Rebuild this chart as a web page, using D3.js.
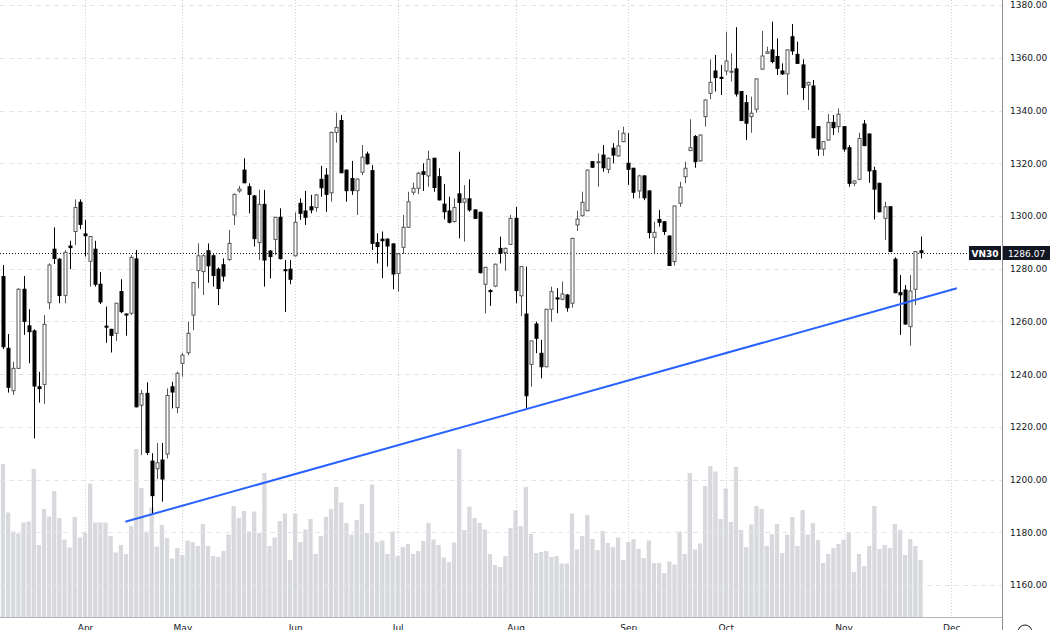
<!DOCTYPE html>
<html>
<head>
<meta charset="utf-8">
<script src="https://cdn.jsdelivr.net/npm/d3@7"></script>
<style>
  body { margin: 0; background: #fff; overflow: hidden; }
  svg { display: block; }
</style>
</head>
<body>
<svg></svg>
<script>
// VN30 daily candles, Mar 7 - Nov 22 2024
const open = [1277.0,1249.8,1233.7,1242.2,1272.2,1258.3,1256.4,1235.2,1236.1,1267.1,
  1287.4,1283.6,1269.9,1288.6,1294.1,1305.2,1293.2,1282.8,1287.4,1274.1,
  1258.2,1257.0,1255.5,1271.3,1262.8,1263.1,1283.7,1228.2,1232.7,1207.0,
  1204.1,1207.4,1209.7,1235.2,1227.3,1244.1,1248.1,1262.4,1279.3,1278.9,
  1286.8,1284.9,1279.8,1281.5,1283.5,1300.4,1309.5,1317.4,1311.1,1307.6,
  1289.9,1304.4,1286.7,1291.1,1299.5,1279.6,1279.8,1284.9,1304.8,1301.9,
  1303.5,1303.2,1313.9,1315.5,1308.8,1331.7,1336.2,1317.4,1314.2,1309.6,
  1316.6,1323.5,1317.2,1289.9,1291.2,1291.2,1289.4,1278.2,1288.1,1295.7,
  1309.0,1310.5,1316.8,1315.2,1321.9,1314.9,1304.5,1301.9,1297.9,1308.4,
  1305.2,1306.5,1302.3,1301.4,1274.1,1271.7,1273.4,1287.7,1286.1,1289.2,
  1299.1,1269.7,1262.8,1243.7,1259.0,1247.9,1242.8,1264.6,1268.9,1268.4,
  1270.0,1266.9,1296.6,1300.1,1302.0,1320.6,1320.5,1323.1,1317.7,1325.7,
  1322.8,1328.2,1320.0,1318.1,1309.5,1315.2,1309.5,1291.9,1298.7,1297.8,
  1292.4,1282.7,1304.8,1314.9,1324.8,1330.1,1320.9,1337.7,1346.5,1355.0,
  1352.6,1355.0,1354.6,1355.8,1347.2,1343.0,1337.7,1340.5,1355.7,1361.7,
  1363.0,1360.5,1355.0,1353.9,1368.0,1361.3,1357.3,1349.7,1349.3,1333.9,
  1325.4,1328.8,1335.5,1333.9,1333.9,1325.9,1312.4,1313.9,1334.9,1331.1,
  1317.2,1312.4,1299.1,1303.5,1283.6,1270.9,1271.9,1258.0,1272.2,1286.8];
const high = [1281.4,1255.2,1244.7,1272.6,1277.2,1264.6,1257.0,1240.9,1262.4,1282.0,
  1295.7,1284.0,1287.0,1290.6,1306.3,1306.3,1298.5,1292.4,1290.6,1278.8,
  1265.6,1257.2,1267.0,1276.0,1263.0,1285.2,1287.1,1234.0,1236.9,1210.0,
  1213.9,1213.9,1234.6,1237.1,1240.9,1248.1,1259.9,1275.0,1289.6,1285.5,
  1289.6,1285.5,1280.5,1283.9,1294.7,1308.5,1311.4,1321.9,1312.4,1308.0,
  1309.9,1309.9,1287.0,1299.7,1302.9,1283.3,1283.3,1301.4,1306.7,1309.5,
  1308.0,1308.3,1319.0,1318.1,1332.0,1339.2,1338.3,1317.6,1320.9,1314.2,
  1326.9,1324.4,1319.3,1293.4,1294.1,1291.5,1289.6,1285.8,1300.4,1309.2,
  1312.6,1316.8,1320.0,1324.8,1322.1,1318.1,1312.1,1307.3,1306.7,1324.4,
  1311.7,1313.9,1302.5,1301.6,1280.7,1272.2,1281.9,1292.2,1288.0,1300.4,
  1303.5,1281.0,1280.8,1252.6,1259.9,1253.0,1264.8,1273.2,1272.6,1275.1,
  1270.4,1291.7,1302.0,1309.2,1317.6,1320.8,1323.8,1326.9,1322.1,1327.6,
  1332.6,1333.9,1331.4,1318.3,1315.6,1315.4,1309.7,1297.8,1302.3,1298.0,
  1292.6,1303.8,1313.0,1320.6,1336.7,1330.7,1330.9,1344.2,1359.4,1361.1,
  1357.3,1369.9,1361.7,1371.6,1347.4,1345.9,1345.3,1352.2,1370.2,1364.2,
  1373.7,1367.4,1357.9,1363.2,1372.8,1366.1,1359.4,1350.9,1351.6,1334.1,
  1328.4,1338.7,1338.3,1340.8,1334.1,1326.9,1313.5,1331.6,1336.4,1331.3,
  1318.7,1312.6,1305.4,1303.7,1284.3,1277.6,1273.8,1277.6,1286.7,1292.2];
const low = [1249.5,1233.0,1232.1,1242.0,1254.9,1244.1,1215.6,1229.2,1228.7,1264.6,
  1281.8,1266.9,1266.9,1279.8,1289.0,1295.0,1284.6,1273.2,1273.2,1266.6,
  1251.9,1248.2,1252.6,1263.1,1254.6,1262.4,1227.4,1209.3,1209.3,1187.3,
  1200.2,1191.6,1208.0,1227.0,1225.1,1239.0,1247.2,1256.7,1272.5,1270.0,
  1274.7,1273.2,1266.2,1275.1,1283.0,1296.6,1308.8,1312.4,1301.0,1288.4,
  1283.3,1273.2,1276.3,1285.2,1283.5,1263.6,1274.1,1284.6,1298.5,1296.6,
  1301.0,1301.6,1307.3,1301.6,1305.4,1327.8,1316.2,1305.4,1308.0,1300.4,
  1315.5,1319.5,1287.1,1282.0,1276.4,1280.8,1272.2,1271.3,1285.6,1295.5,
  1308.0,1308.3,1309.5,1311.1,1309.2,1305.9,1298.7,1297.2,1297.5,1291.5,
  1290.3,1301.6,1298.9,1278.2,1263.1,1265.9,1273.0,1282.0,1279.2,1289.0,
  1266.9,1262.0,1226.6,1235.2,1247.9,1238.4,1242.6,1259.9,1263.1,1268.0,
  1263.7,1265.2,1294.3,1299.7,1301.8,1318.3,1311.1,1316.8,1316.2,1320.0,
  1322.5,1328.0,1311.8,1306.7,1306.7,1306.0,1291.5,1285.8,1296.0,1292.8,
  1281.0,1281.2,1303.5,1312.4,1324.7,1318.3,1320.7,1333.9,1344.3,1347.2,
  1345.9,1353.5,1351.0,1345.3,1336.0,1328.8,1331.6,1339.2,1355.5,1361.5,
  1357.9,1353.5,1353.5,1345.9,1361.1,1357.7,1344.0,1340.2,1329.5,1322.8,
  1322.8,1328.6,1330.7,1331.6,1324.4,1311.1,1311.3,1313.6,1326.5,1312.6,
  1298.7,1301.4,1290.9,1286.3,1270.7,1254.9,1258.8,1250.8,1266.2,1283.9];
const close = [1250.4,1235.0,1242.2,1272.2,1260.0,1256.1,1235.5,1234.5,1258.9,1281.4,
  1283.9,1269.8,1286.2,1288.0,1303.2,1296.8,1292.5,1292.2,1274.1,1267.4,
  1258.0,1254.7,1266.9,1263.7,1262.6,1284.3,1227.6,1232.6,1210.3,1193.9,
  1206.4,1200.2,1231.9,1233.2,1240.3,1247.2,1255.5,1274.7,1284.9,1284.9,
  1281.1,1277.4,1272.5,1277.2,1289.6,1308.2,1310.2,1312.6,1308.2,1291.4,
  1304.4,1283.3,1284.6,1299.5,1283.8,1279.5,1276.0,1297.6,1301.0,1299.5,
  1302.3,1308.0,1310.7,1308.2,1331.7,1333.6,1316.4,1309.6,1309.6,1314.0,
  1322.3,1319.8,1289.6,1288.4,1290.6,1288.6,1278.0,1285.6,1295.7,1305.4,
  1310.5,1316.2,1315.8,1321.5,1310.8,1306.1,1301.6,1297.6,1303.2,1305.1,
  1306.5,1302.3,1299.1,1278.5,1280.5,1271.3,1281.7,1285.8,1287.7,1299.1,
  1271.7,1280.8,1231.8,1252.6,1253.6,1242.8,1264.6,1271.3,1268.8,1270.4,
  1265.2,1291.5,1298.8,1305.2,1317.4,1318.5,1320.6,1318.3,1321.9,1323.1,
  1326.6,1331.4,1317.7,1309.0,1315.2,1306.9,1293.7,1293.8,1297.6,1294.1,
  1281.2,1303.8,1310.9,1318.1,1325.9,1320.6,1330.7,1344.0,1350.7,1352.5,
  1352.2,1358.8,1354.9,1346.3,1336.2,1335.2,1339.0,1352.0,1360.7,1362.3,
  1358.6,1356.0,1353.9,1363.0,1362.6,1357.9,1348.7,1350.7,1329.7,1325.4,
  1328.2,1335.5,1333.5,1338.6,1325.4,1312.4,1313.3,1329.4,1326.7,1317.1,
  1310.2,1301.6,1303.5,1286.5,1270.9,1270.1,1259.0,1271.5,1286.5,1286.07];
const volume = [306,209,171,167,189,191,296,144,216,201,252,198,155,139,200,159,168,267,189,189,
  189,162,129,144,126,182,336,258,171,219,141,184,158,117,138,124,153,150,142,186,
  142,122,120,132,165,222,198,212,171,211,168,288,142,159,192,207,114,207,150,175,
  196,126,162,200,216,260,229,188,165,194,226,168,265,150,153,126,171,122,140,146,
  126,132,152,188,155,144,119,110,149,336,174,221,198,188,175,126,104,100,122,178,
  213,182,260,166,128,130,132,120,122,107,107,207,135,162,204,156,134,172,148,140,
  159,114,150,156,136,118,153,108,108,88,111,105,171,126,288,135,147,262,302,291,
  196,257,190,300,174,140,185,222,216,142,166,186,128,165,200,142,214,165,188,154,
  108,126,138,146,155,170,90,126,102,142,222,136,144,138,186,174,124,156,142,114];

// month ticks: label and index of first trading day
const monthLabels = ['Apr', 'May', 'Jun', 'Jul', 'Aug', 'Sep', 'Oct', 'Nov', 'Dec'];
const monthIdx = [16, 35, 57, 77, 100, 122, 141, 164, 185];

const priceTicks = d3.range(1160, 1381, 20);
const symbol = 'VN30';
const lastPrice = 1286.07;

// hand drawn trend line (index, price)
const trendIdx = [23.86, 186.1];
const trendPrice = [1184.0, 1272.6];

const W = 1050, H = 630;
const plotRight = 1002;
const volBase = 617;

const svg = d3.select('svg').attr('width', W).attr('height', H);

const x = d3.scaleLinear().domain([0, 179]).range([3, 920.5]);
const y = d3.scaleLinear().domain([1160, 1380]).range([585, 5.1]);
const yVol = d3.scaleLinear().domain([0, 400]).range([volBase, volBase - 200]);

const idx = d3.range(open.length);
const px = i => Math.round(x(i)) + 0.5;

// volume
svg.append('g')
  .selectAll('rect')
  .data(idx)
  .enter()
  .append('rect')
  .attr('x', i => x(i) - 2.15)
  .attr('width', 4.3)
  .attr('y', i => yVol(volume[i]))
  .attr('height', i => volBase - yVol(volume[i]))
  .attr('fill', '#d8d9dd');

// grid
svg.append('g')
  .selectAll('line')
  .data(priceTicks)
  .enter()
  .append('line')
  .attr('x1', 0).attr('x2', plotRight)
  .attr('y1', d => Math.round(y(d)) + 0.5)
  .attr('y2', d => Math.round(y(d)) + 0.5)
  .attr('stroke', '#e3e5ea')
  .attr('stroke-dasharray', '5,4');

svg.append('g')
  .selectAll('line')
  .data(monthIdx)
  .enter()
  .append('line')
  .attr('x1', d => px(d)).attr('x2', d => px(d))
  .attr('y1', 0).attr('y2', volBase)
  .attr('stroke', '#cfd2d9')
  .attr('stroke-dasharray', '1,2');

// last price dotted line
svg.append('line')
  .attr('x1', 0).attr('x2', 969)
  .attr('y1', Math.round(y(lastPrice)) + 0.5)
  .attr('y2', Math.round(y(lastPrice)) + 0.5)
  .attr('stroke', '#131722')
  .attr('stroke-dasharray', '1,2');

// candles
const up = i => close[i] >= open[i];
const candle = svg.append('g')
  .selectAll('g')
  .data(idx)
  .enter()
  .append('g');

candle.append('line')
  .attr('x1', px).attr('x2', px)
  .attr('y1', i => y(high[i]))
  .attr('y2', i => y(low[i]))
  .attr('stroke', i => up(i) ? '#555' : '#000');

candle.append('rect')
  .attr('x', i => px(i) - 1.5)
  .attr('width', 3)
  .attr('y', i => y(Math.max(open[i], close[i])))
  .attr('height', i => Math.max(1, Math.abs(y(open[i]) - y(close[i]))))
  .attr('fill', i => up(i) ? '#fff' : '#000')
  .attr('stroke', i => up(i) ? '#555' : '#000');

// trend line
svg.append('line')
  .attr('x1', x(trendIdx[0])).attr('y1', y(trendPrice[0]))
  .attr('x2', x(trendIdx[1])).attr('y2', y(trendPrice[1]))
  .attr('stroke', '#2962ff')
  .attr('stroke-width', 2);

// frame lines
svg.append('line')
  .attr('x1', 0).attr('x2', plotRight)
  .attr('y1', volBase + 0.5).attr('y2', volBase + 0.5)
  .attr('stroke', '#b2b5be');
svg.append('line')
  .attr('x1', plotRight + 0.5).attr('x2', plotRight + 0.5)
  .attr('y1', 0).attr('y2', H)
  .attr('stroke', '#8a8d96');

// axes
const yAxis = d3.axisRight(y)
  .tickValues(priceTicks)
  .tickFormat(d3.format('.2f'))
  .tickSize(0)
  .tickPadding(8);
const gy = svg.append('g')
  .attr('transform', 'translate(' + plotRight + ',0)')
  .call(yAxis);

const xAxis = d3.axisBottom(x)
  .tickValues(monthIdx)
  .tickFormat((d, i) => monthLabels[i])
  .tickSize(0)
  .tickPadding(8);
const gx = svg.append('g')
  .attr('transform', 'translate(0,' + volBase + ')')
  .call(xAxis);

[gx, gy].forEach(g => {
  g.select('.domain').remove();
  g.selectAll('text')
    .attr('fill', '#131722')
    .style('font-family', '"DejaVu Sans", Verdana, sans-serif')
    .style('font-size', '9px');
});

// last price labels
const ly = Math.round(y(lastPrice));
svg.append('rect')
  .attr('x', 969).attr('y', ly - 7).attr('width', 32).attr('height', 14)
  .attr('fill', '#131722');
svg.append('text')
  .attr('x', 985).attr('y', ly + 3.5)
  .attr('text-anchor', 'middle')
  .attr('fill', '#fff')
  .style('font-family', '"DejaVu Sans", Verdana, sans-serif')
  .style('font-size', '9px')
  .style('font-weight', 'bold')
  .text(symbol);
svg.append('rect')
  .attr('x', 1003).attr('y', ly - 7).attr('width', 47).attr('height', 14)
  .attr('fill', '#131722');
svg.append('text')
  .attr('x', 1026.5).attr('y', ly + 3.5)
  .attr('text-anchor', 'middle')
  .attr('fill', '#fff')
  .style('font-family', '"DejaVu Sans", Verdana, sans-serif')
  .style('font-size', '9px')
  .text(d3.format('.2f')(lastPrice));

// settings badge in the corner (cut by the frame)
svg.append('circle')
  .attr('cx', 1025).attr('cy', 632).attr('r', 7)
  .attr('fill', 'none')
  .attr('stroke', '#131722');
</script>
</body>
</html>
